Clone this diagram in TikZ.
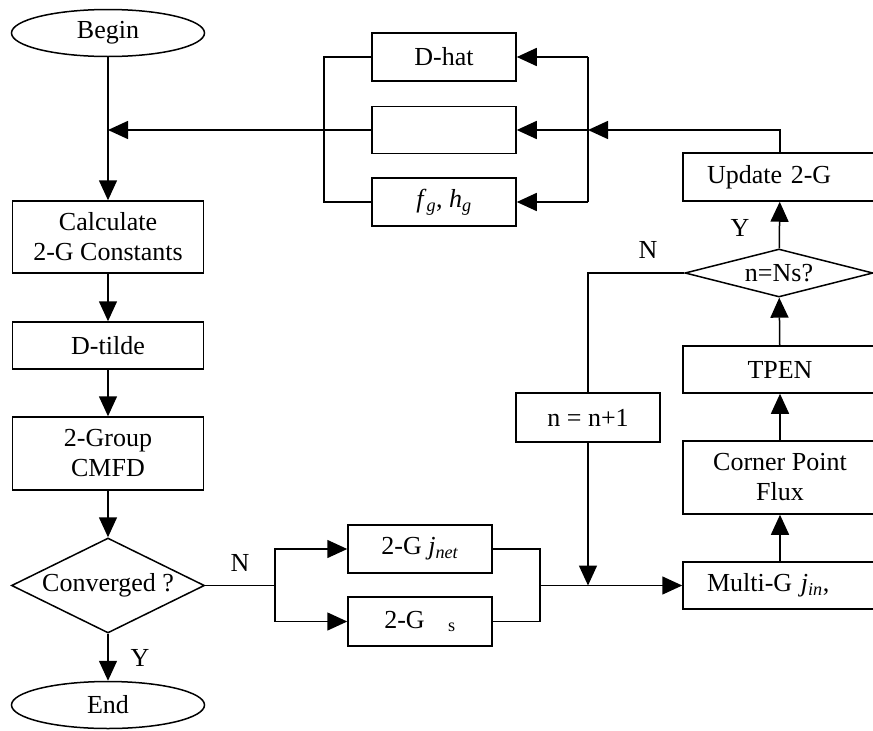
\documentclass[tikz,border=0pt]{standalone}
\usepackage{fontspec}
\setmainfont{Liberation Serif}
\usetikzlibrary{shapes.geometric,arrows.meta}
\newcommand{\itsub}[2]{\textit{#1}\textsubscript{\textit{#2}}}

\begin{document}
\begin{tikzpicture}[x=1pt,y=-1pt,line width=1.5pt,
		every node/.style={font=\fontsize{26}{30}\selectfont},
		blk/.style={draw,rectangle,inner sep=0pt,align=center,minimum width=#1},
		blk/.default=144pt,
		rblk/.style={draw,rectangle,inner sep=0pt,align=center,minimum width=194pt},
		lblk/.style={draw,rectangle,inner ysep=0pt,inner xsep=24pt,align=left,text width=146pt},
		term/.style={draw,ellipse,inner sep=0pt,minimum width=193pt,minimum height=47pt},
		test/.style={draw,diamond,inner sep=0pt,aspect=2},
		arr/.style={-{Triangle[length=20pt,width=18pt]}}]
		\useasboundingbox (0,0) rectangle (873,731);
		\node [term] (begin) at (108,33) {Begin};
		\node [blk=191pt,minimum height=72pt] (calc) at (108,237) {Calculate\\2-G Constants};
		\node [blk=191pt,minimum height=47pt] (dtilde) at (108,345.5) {D-tilde};
		\node [blk=191pt,minimum height=73pt] (cmfd) at (108,453.5) {2-Group\\CMFD};
		\node [test,minimum width=193pt,minimum height=95pt] (conv) at (108,585.5) {Converged ?};
		\node [term] (end) at (108,705) {End};
		\node (ylab) at (140,658) {Y};
		\node (nlab) at (240,563) {N};
		\node [blk,minimum height=48pt] (jnet) at (420,549) {2-G \itsub{j}{net}};
		\node [blk,minimum height=49pt] (gs) at (420,621.5) {2-G\hspace{0.9em}\textsubscript{s}};
		\node [blk,minimum height=49pt] (nplus) at (588,417.5) {n = n+1};
		\node [lblk,minimum height=47pt] (multi) at (780,585.5) {Multi-G \itsub{j}{in},};
		\node [rblk,minimum height=73pt] (corner) at (780,477.5) {Corner Point\\Flux};
		\node [rblk,minimum height=47pt] (tpen) at (780,369.5) {TPEN};
		\node [test,aspect=4,minimum width=188pt,minimum height=48pt] (nns) at (779,273) {n=Ns?};
		\node [lblk,minimum height=48pt] (update) at (780,177) {Update 2-G};
		\node (nlab2) at (648,250) {N};
		\node (ylab2) at (740,228) {Y};
		\node [blk,minimum height=48pt] (dhat) at (444,57) {D-hat};
		\node [blk,minimum height=47pt] (mid) at (444,130) {};
		\node [blk,minimum height=48pt] (fg) at (444,202) {\itsub{f}{g}, \itsub{h}{g}};
		\coordinate (join) at (108,130);
		\coordinate (sp) at (275,585.5);
		\coordinate (mrg) at (540,585.5);
		\coordinate (nin) at (588,585.5);
		\coordinate (rin) at (588,130);
		\coordinate (rtop) at (588,57);
		\coordinate (rbot) at (588,202);
		\coordinate (ltop) at (324,57);
		\coordinate (lbot) at (324,202);
		\draw [arr] (begin) -- (calc);
		\draw [arr] (calc) -- (dtilde);
		\draw [arr] (dtilde) -- (cmfd);
		\draw [arr] (cmfd) -- (conv);
		\draw [arr] (conv) -- (end);
		\draw (conv.east) -- (sp);
		\draw [arr] (sp) |- (jnet.west);
		\draw [arr] (sp) |- (gs.west);
		\draw (jnet.east) -| (mrg);
		\draw (gs.east) -| (mrg);
		\draw [arr] (mrg) -- (multi.west);
		\draw [arr] (nplus.south) -- (nin);
		\draw [arr] (multi) -- (corner);
		\draw [arr] (corner) -- (tpen);
		\draw [arr] (tpen) -- (nns);
		\draw [arr] (nns) -- (update);
		\draw (nns.west) -| (nplus.north);
		\draw [arr] (update.north) |- (rin);
		\draw (rtop) -- (rbot);
		\draw [arr] (rtop) -- (dhat.east);
		\draw [arr] (rin) -- (mid.east);
		\draw [arr] (rbot) -- (fg.east);
		\draw (dhat.west) -- (ltop) -- (lbot) -- (fg.west);
		\draw [arr] (mid.west) -- (join);
	\end{tikzpicture}
\end{document}
